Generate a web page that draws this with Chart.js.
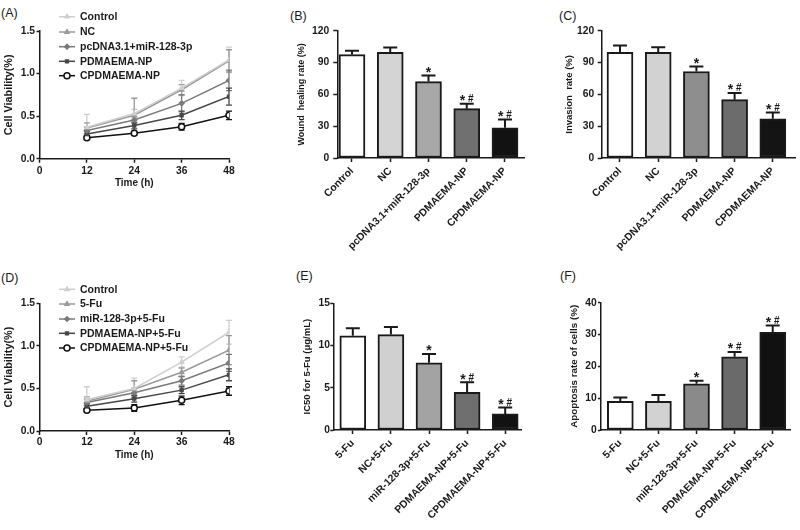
<!DOCTYPE html>
<html>
<head>
<meta charset="utf-8">
<script src="https://cdn.jsdelivr.net/npm/chart.js@4.4.1/dist/chart.umd.min.js"></script>
<style>
  html,body{margin:0;padding:0;background:#fff;}
  body{position:relative;width:800px;height:530px;overflow:hidden;font-family:"Liberation Sans",Arial,sans-serif;}
  canvas{position:absolute;}
  .tag{position:absolute;font-size:12.5px;line-height:1;color:#1a1a1a;white-space:nowrap;}
</style>
</head>
<body>
<div class="tag" style="left:1px;top:7px">(A)</div>
<div class="tag" style="left:290px;top:10px">(B)</div>
<div class="tag" style="left:559px;top:10px">(C)</div>
<div class="tag" style="left:1px;top:272px">(D)</div>
<div class="tag" style="left:296px;top:270px">(E)</div>
<div class="tag" style="left:560px;top:270px">(F)</div>
<canvas id="cA" width="268" height="258" style="left:0px;top:0px"></canvas>
<canvas id="cB" width="267" height="258" style="left:268px;top:0px"></canvas>
<canvas id="cC" width="265" height="258" style="left:535px;top:0px"></canvas>
<canvas id="cD" width="268" height="272" style="left:0px;top:258px"></canvas>
<canvas id="cE" width="267" height="272" style="left:268px;top:258px"></canvas>
<canvas id="cF" width="265" height="272" style="left:535px;top:258px"></canvas>
<script>
// ---------------- DATA ----------------
const timePoints = [12, 24, 36, 48];
const timeTicks = [0, 12, 24, 36, 48];
const viabilityTicks = [0, 0.5, 1.0, 1.5];

const seriesA = ['Control', 'NC', 'pcDNA3.1+miR-128-3p', 'PDMAEMA-NP', 'CPDMAEMA-NP'];
const viabA_Control  = [0.37, 0.53, 0.83, 1.16];
const viabA_NC       = [0.36, 0.51, 0.81, 1.15];
const viabA_pcDNA    = [0.33, 0.455, 0.65, 0.92];
const viabA_PDMAEMA  = [0.29, 0.39, 0.51, 0.73];
const viabA_CPDMAEMA = [0.245, 0.30, 0.375, 0.51];
const errA_Control   = [0.15, 0.05, 0.09, 0.15];
const errA_NC        = [0.06, 0.20, 0.06, 0.13];
const errA_pcDNA     = [0.04, 0.04, 0.10, 0.12];
const errA_PDMAEMA   = [0.03, 0.04, 0.05, 0.10];
const errA_CPDMAEMA  = [0.02, 0.02, 0.04, 0.05];

const seriesD = ['Control', '5-Fu', 'miR-128-3p+5-Fu', 'PDMAEMA-NP+5-Fu', 'CPDMAEMA-NP+5-Fu'];
const viabD_Control  = [0.37, 0.50, 0.81, 1.16];
const viabD_5Fu      = [0.35, 0.49, 0.69, 0.95];
const viabD_miR      = [0.335, 0.45, 0.59, 0.80];
const viabD_PDMAEMA  = [0.29, 0.38, 0.48, 0.66];
const viabD_CPDMAEMA = [0.245, 0.27, 0.36, 0.47];
const errD_Control   = [0.15, 0.12, 0.06, 0.14];
const errD_5Fu       = [0.05, 0.10, 0.05, 0.17];
const errD_miR       = [0.04, 0.05, 0.05, 0.10];
const errD_PDMAEMA   = [0.03, 0.04, 0.04, 0.07];
const errD_CPDMAEMA  = [0.02, 0.04, 0.05, 0.05];

const groupsBC = ['Control', 'NC', 'pcDNA3.1+miR-128-3p', 'PDMAEMA-NP', 'CPDMAEMA-NP'];
const woundHealing    = [97.5, 99.5, 72, 46.5, 28.5];
const woundHealingErr = [3.5, 4.7, 5.7, 4.7, 7.8];
const woundTicks      = [0, 30, 60, 90, 120];
const invasionRate    = [99.5, 99.5, 81.5, 55, 37];
const invasionRateErr = [6.5, 5, 4.7, 6.3, 6];
const invasionTicks   = [0, 30, 60, 90, 120];

const groupsEF = ['5-Fu', 'NC+5-Fu', 'miR-128-3p+5-Fu', 'PDMAEMA-NP+5-Fu', 'CPDMAEMA-NP+5-Fu'];
const ic50      = [11.15, 11.3, 7.95, 4.45, 1.9];
const ic50Err   = [0.9, 0.9, 1.05, 1.2, 0.75];
const ic50Ticks = [0, 5, 10, 15];
const apoptosis      = [9, 9, 14.5, 23, 30.7];
const apoptosisErr   = [1.25, 2, 1, 1.5, 2.1];
const apoptosisTicks = [0, 10, 20, 30, 40];

const significance = ['', '', '*', '* #', '* #'];

// ---------------- STYLE ----------------
const FONT = '"Liberation Sans", Arial, Helvetica, sans-serif';
const INK = '#1a1a1a';
const lineColors = ['#cfcfcf', '#9a9a9a', '#7a7a7a', '#474747', '#111111'];
const lineMarkers = ['triangle', 'triangle', 'rectRot', 'rect', 'circle'];
const markerRadii = [2.3, 2.3, 2.3, 2.0, 3.0];

// ---------------- PLUGINS ----------------
function drawErrors(chart, o) {
  const ctx = chart.ctx, ys = chart.scales.y;
  ctx.save();
  chart.data.datasets.forEach((ds, di) => {
    const meta = chart.getDatasetMeta(di);
    meta.data.forEach((el, i) => {
      const v = ds.data[i].y, e = ds.errors[i];
      const x = el.x;
      const yTop = ys.getPixelForValue(v + e);
      const yBot = o.kind === 'bar' ? el.y : ys.getPixelForValue(v - e);
      ctx.strokeStyle = o.kind === 'bar' ? INK : ds.borderColor;
      ctx.lineWidth = o.width;
      ctx.beginPath();
      ctx.moveTo(x, yBot); ctx.lineTo(x, yTop);
      ctx.moveTo(x - o.cap / 2, yTop); ctx.lineTo(x + o.cap / 2, yTop);
      if (o.kind === 'line') { ctx.moveTo(x - o.cap / 2, yBot); ctx.lineTo(x + o.cap / 2, yBot); }
      ctx.stroke();
    });
  });
  ctx.restore();
}
function drawSig(chart) {
  const ctx = chart.ctx, ys = chart.scales.y;
  const ds = chart.data.datasets[0];
  const meta = chart.getDatasetMeta(0);
  ctx.save();
  ctx.fillStyle = INK; ctx.textBaseline = 'alphabetic'; ctx.textAlign = 'left';
  meta.data.forEach((el, i) => {
    const s = ds.sig[i]; if (!s) return;
    const capY = ys.getPixelForValue(ds.data[i].y + ds.errors[i]);
    const parts = [...s].map(ch => {
      const st = ch === '*' ? {f: 'bold 14px ' + FONT, dy: 1.4}
               : ch === '#' ? {f: 'bold 10px ' + FONT, dy: -1.6}
               : {f: '10px ' + FONT, dy: 0};
      ctx.font = st.f;
      return {ch, f: st.f, dy: st.dy, w: ctx.measureText(ch).width};
    });
    const total = parts.reduce((a, p) => a + p.w, 0);
    let x = el.x - total / 2;
    parts.forEach(p => { ctx.font = p.f; ctx.fillText(p.ch, x, capY + p.dy); x += p.w; });
  });
  ctx.restore();
}
const errPlugin = {
  id: 'errBars',
  beforeDatasetsDraw(chart, args, o) { if (o && o.kind === 'line') drawErrors(chart, o); },
  afterDatasetsDraw(chart, args, o) { if (o && o.kind === 'bar') { drawErrors(chart, o); drawSig(chart); } }
};
const keyPlugin = {
  id: 'seriesKey',
  afterDraw(chart, args, o) {
    if (!o || !o.ys) return;
    const ctx = chart.ctx;
    chart.data.datasets.forEach((ds, i) => {
      const y = o.ys[i];
      ctx.save();
      ctx.strokeStyle = ds.borderColor; ctx.lineWidth = ds.borderWidth;
      ctx.beginPath(); ctx.moveTo(o.x1, y); ctx.lineTo(o.x2, y); ctx.stroke();
      ctx.fillStyle = ds.pointBackgroundColor; ctx.strokeStyle = ds.pointBorderColor;
      ctx.lineWidth = ds.pointBorderWidth;
      Chart.helpers.drawPoint(ctx, {pointStyle: ds.pointStyle, rotation: 0, radius: ds.pointRadius, borderWidth: ds.pointBorderWidth}, (o.x1 + o.x2) / 2, y);
      ctx.fillStyle = INK; ctx.font = o.font; ctx.textBaseline = 'middle'; ctx.textAlign = 'left';
      ctx.fillText(ds.label, o.tx, y + 0.5);
      ctx.restore();
    });
  }
};

function f(size, bold = true) { return {family: FONT, size, weight: bold ? 'bold' : 'normal'}; }

// ---------------- BUILDERS ----------------
function lineChart(id, names, means, errs, g) {
  const datasets = names.map((n, k) => ({
    label: n,
    data: timePoints.map((t, i) => ({x: t, y: means[k][i]})),
    errors: errs[k],
    borderColor: lineColors[k],
    backgroundColor: lineColors[k],
    pointBackgroundColor: lineMarkers[k] === 'circle' ? '#ffffff' : lineColors[k],
    pointBorderColor: lineColors[k],
    pointStyle: lineMarkers[k],
    pointRadius: markerRadii[k],
    pointBorderWidth: 1.5,
    borderWidth: 1.5,
    tension: 0
  }));
  new Chart(document.getElementById(id), {
    type: 'line',
    data: {datasets},
    plugins: [errPlugin, keyPlugin],
    options: {
      responsive: false, animation: false, devicePixelRatio: 1,
      layout: {padding: {left: 0, top: g.T, right: g.W - g.R, bottom: g.H - g.B - g.xh}},
      plugins: {
        legend: {display: false}, tooltip: {enabled: false},
        errBars: {kind: 'line', cap: 6, width: 1.3},
        seriesKey: {x1: 59, x2: 75, tx: 80, ys: g.keyYs, font: 'bold 10.5px ' + FONT}
      },
      scales: {
        x: {
          type: 'linear', min: timeTicks[0], max: timeTicks[timeTicks.length - 1],
          afterFit: s => { s.height = g.xh; },
          ticks: {stepSize: timeTicks[1] - timeTicks[0], color: INK, font: f(10.3), padding: g.xpad, maxRotation: 0},
          grid: {drawOnChartArea: false, drawTicks: true, tickLength: 4, tickColor: INK, tickWidth: 1.5},
          border: {display: true, color: INK, width: 1.5},
          title: {display: true, text: 'Time (h)', color: INK, font: f(10), padding: {top: 0, bottom: 1.4}}
        },
        y: {
          type: 'linear', min: viabilityTicks[0], max: viabilityTicks[viabilityTicks.length - 1],
          afterFit: s => { s.width = g.L; },
          ticks: {stepSize: viabilityTicks[1] - viabilityTicks[0], color: INK, font: f(10.3), padding: 1.5, callback: v => v.toFixed(1)},
          grid: {drawOnChartArea: false, drawTicks: true, tickLength: 3, tickColor: INK, tickWidth: 1.5},
          border: {display: true, color: INK, width: 1.5},
          title: {display: true, text: 'Cell Viability(%)', color: INK, font: f(10.8), padding: {top: 2.5, bottom: 0}}
        }
      }
    }
  });
}

function barChart(id, cats, vals, errs, ticks, fills, yTitle, g) {
  new Chart(document.getElementById(id), {
    type: 'bar',
    data: {datasets: [{
      data: cats.map((c, i) => ({x: i, y: vals[i]})),
      errors: errs, sig: significance,
      backgroundColor: fills, borderColor: INK, borderWidth: 2,
      borderSkipped: false, barThickness: 26
    }]},
    plugins: [errPlugin],
    options: {
      responsive: false, animation: false, devicePixelRatio: 1,
      layout: {padding: {left: 0, top: g.T, right: g.W - g.R, bottom: g.H - g.B - g.xh}},
      plugins: {legend: {display: false}, tooltip: {enabled: false}, errBars: {kind: 'bar', cap: 14, width: 2}},
      scales: {
        x: {
          type: 'linear', min: g.xmin, max: g.xmax, offset: false,
          afterFit: s => { s.height = g.xh; },
          ticks: {stepSize: 1, includeBounds: false, autoSkip: false, minRotation: 45, maxRotation: 45,
                  color: INK, font: f(10.4), padding: 3, callback: v => (cats[v] !== undefined ? cats[v] : '')},
          grid: {offset: false, drawOnChartArea: false, drawTicks: true, tickLength: 4, tickColor: INK, tickWidth: 1.5},
          border: {display: true, color: INK, width: 1.5}
        },
        y: {
          type: 'linear', min: ticks[0], max: ticks[ticks.length - 1],
          afterFit: s => { s.width = g.L; },
          ticks: {stepSize: ticks[1] - ticks[0], color: INK, font: f(10.3), padding: g.ypad},
          grid: {drawOnChartArea: false, drawTicks: true, tickLength: g.ytl, tickColor: INK, tickWidth: 1.5},
          border: {display: true, color: INK, width: 1.5},
          title: {display: true, text: yTitle, color: INK, font: f(g.tfs), padding: {top: g.tpad, bottom: 0}}
        }
      }
    }
  });
}

// ---------------- CHARTS ----------------
lineChart('cA', seriesA,
  [viabA_Control, viabA_NC, viabA_pcDNA, viabA_PDMAEMA, viabA_CPDMAEMA],
  [errA_Control, errA_NC, errA_pcDNA, errA_PDMAEMA, errA_CPDMAEMA],
  {W: 268, H: 258, L: 39.5, R: 229, T: 31, B: 158.7, xh: 32, xpad: 2, keyYs: [16.7, 32, 46.7, 61.3, 75.7]});

lineChart('cD', seriesD,
  [viabD_Control, viabD_5Fu, viabD_miR, viabD_PDMAEMA, viabD_CPDMAEMA],
  [errD_Control, errD_5Fu, errD_miR, errD_PDMAEMA, errD_CPDMAEMA],
  {W: 268, H: 272, L: 39.5, R: 229, T: 45.3, B: 173, xh: 32, xpad: 1, keyYs: [31.3, 46, 61, 75.3, 90]});

barChart('cB', groupsBC, woundHealing, woundHealingErr, woundTicks,
  ['#ffffff', '#d4d4d4', '#a8a8a8', '#707070', '#121212'], 'Wound  healing rate (%)',
  {W: 267, H: 258, L: 69.3, R: 256, T: 30.7, B: 158, xh: 100, xmin: -0.384, xmax: 4.497, ypad: 4, ytl: 4, tfs: 9, tpad: 28.6});

barChart('cC', groupsBC, invasionRate, invasionRateErr, invasionTicks,
  ['#ffffff', '#d2d2d2', '#8e8e8e', '#6c6c6c', '#141414'], 'Invasion  rate (%)',
  {W: 265, H: 258, L: 66.7, R: 260, T: 30.7, B: 158, xh: 100, xmin: -0.479, xmax: 4.581, ypad: 3.4, ytl: 4, tfs: 9.5, tpad: 28.3});

barChart('cE', groupsEF, ic50, ic50Err, ic50Ticks,
  ['#ffffff', '#d0d0d0', '#a3a3a3', '#6f6f6f', '#121212'], 'IC50 for 5-Fu (\u03BCg/mL)',
  {W: 267, H: 272, L: 65.3, R: 253.7, T: 45.3, B: 172, xh: 100, xmin: -0.512, xmax: 4.433, ypad: 0.3, ytl: 3, tfs: 9.5, tpad: 33.8});

barChart('cF', groupsEF, apoptosis, apoptosisErr, apoptosisTicks,
  ['#ffffff', '#d2d2d2', '#8a8a8a', '#6a6a6a', '#111111'], 'Apoptosis rate of cells (%)',
  {W: 265, H: 272, L: 66, R: 255, T: 44.7, B: 172, xh: 100, xmin: -0.507, xmax: 4.454, ypad: 1.3, ytl: 3, tfs: 9.8, tpad: 33.1});
</script>
</body>
</html>
